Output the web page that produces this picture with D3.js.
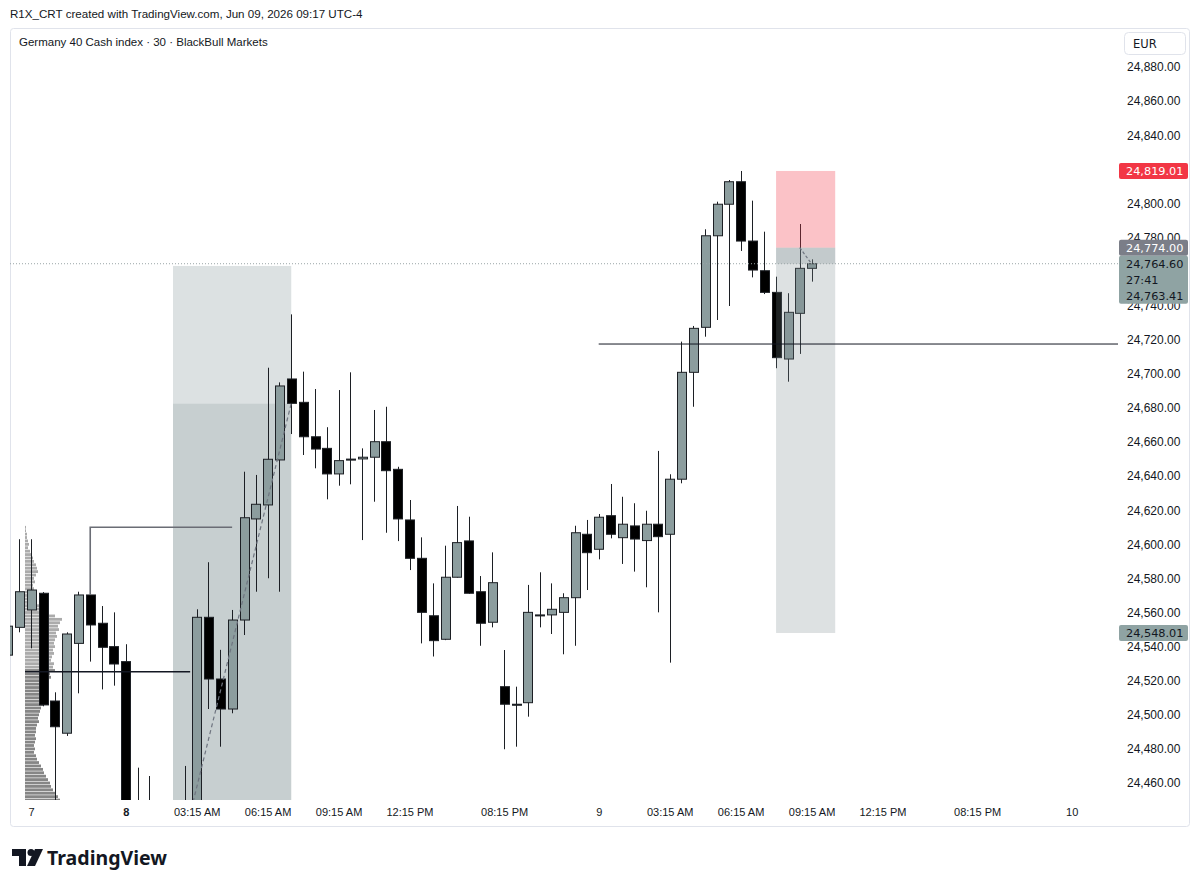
<!DOCTYPE html>
<html lang="en">
<head>
<meta charset="utf-8">
<title>Germany 40 Cash index · 30 · BlackBull Markets</title>
<script src="https://cdn.jsdelivr.net/npm/d3@7"></script>
<style>
	body { margin: 0; background: #fff; }
	svg { display: block; font-family: "DejaVu Sans", sans-serif; }
	.axis text { font-size: 11px; fill: #131722; }
	.yaxis text { font-size: 12px; }
	.axis path, .axis line { display: none; }
</style>
</head>
<body>
<script>
// candles, 30 min, bar index 0 = start of day "8"
var firstIndex = -10;
var opens  = [24535, 24551.3, 24561.5, 24571.3, 24508.1, 24489.2, 24541.9, 24570.3, 24553.7, 24540.0,
              24531.2, 24440, 24432, 24420, 24410, 24405, 24420, 24557.2, 24521.0, 24503.4,
              24555.6, 24614.9, 24623.1, 24649.5, 24697.0, 24683.3, 24663.1, 24656.3, 24641.3, 24650.0,
              24650.1, 24651.1, 24660.2, 24644.0, 24614.3, 24591.8, 24558.1, 24544.3, 24580.7, 24602.0,
              24572.2, 24554.3, 24516.5, 24506.2, 24507.1, 24558.5, 24558.6, 24560.1, 24568.7, 24605.9,
              24597.1, 24616.8, 24603.9, 24610.8, 24602.2, 24611.8, 24605.9, 24638.2, 24700.9, 24727.3,
              24781.0, 24799.5, 24812.7, 24777.9, 24760.5, 24747.8, 24708.7, 24735.5, 24761.9];
var highs  = [24556, 24603.0, 24603.0, 24572.0, 24513.2, 24548.4, 24572.2, 24571.0, 24563.8, 24560.1,
              24541.4, 24469.0, 24464.1, 24440, 24445, 24470.0, 24561.9, 24589.5, 24538.1, 24561.5,
              24642.6, 24640.7, 24703.6, 24695.0, 24734.9, 24701.3, 24691.1, 24668.7, 24690.5, 24700.9,
              24656.3, 24678.8, 24680.7, 24645.5, 24626.0, 24604.1, 24577.1, 24599.2, 24622.5, 24616.2,
              24581.4, 24595.3, 24538.0, 24516.5, 24576.2, 24583.6, 24577.1, 24571.3, 24610.9, 24614.3,
              24617.8, 24635.4, 24627.9, 24624.1, 24619.7, 24654.8, 24641.1, 24718.9, 24728.1, 24784.8,
              24801.0, 24813.7, 24819.0, 24801.6, 24783.4, 24757.0, 24747.3, 24787.9, 24767.2];
var lows   = [24530, 24548.4, 24539.0, 24505.0, 24440, 24487.6, 24512.6, 24531.2, 24514.9, 24517.1,
              24430, 24420, 24415, 24400, 24395, 24398, 24415, 24503.4, 24481.3, 24500.9,
              24546.8, 24572.2, 24580.1, 24572.2, 24664.7, 24652.4, 24644.6, 24626.4, 24634.4, 24635.2,
              24602.5, 24625.0, 24606.8, 24601.9, 24584.9, 24541.9, 24534.2, 24543.8, 24580.5, 24571.0,
              24540.5, 24551.3, 24479.8, 24481.3, 24498.9, 24551.3, 24547.4, 24535.5, 24540.5, 24573.2,
              24591.2, 24603.5, 24588.5, 24584.0, 24574.8, 24560.1, 24530.6, 24635.8, 24680.7, 24721.8,
              24731.6, 24739.8, 24772.1, 24756.6, 24746.8, 24703.3, 24695.4, 24711.7, 24754.1];
var closes = [24552, 24572.2, 24573.2, 24505.8, 24493.0, 24547.4, 24570.3, 24552.7, 24539.6, 24529.8,
              24445, 24430, 24425, 24410, 24405, 24420, 24557.2, 24521.0, 24503.4, 24555.6,
              24615.6, 24623.5, 24649.9, 24692.9, 24682.7, 24663.1, 24655.9, 24641.3, 24649.1, 24649.5,
              24651.1, 24660.2, 24643.2, 24614.9, 24591.8, 24560.1, 24543.5, 24580.7, 24601.0, 24571.3,
              24553.7, 24577.5, 24506.2, 24506.0, 24560.1, 24558.6, 24561.9, 24568.7, 24606.8, 24595.1,
              24615.9, 24605.9, 24611.8, 24603.1, 24611.8, 24604.5, 24638.2, 24700.9, 24726.7, 24781.0,
              24799.5, 24812.7, 24777.9, 24760.9, 24747.8, 24709.5, 24736.1, 24761.9, 24764.6];

// axis ticks
var priceTicks = [24460, 24480, 24500, 24520, 24540, 24560, 24580, 24600, 24620, 24640, 24660,
                  24680, 24700, 24720, 24740, 24760, 24780, 24800, 24820, 24840, 24860, 24880];
var timeTickIndex  = [-8, 0, 6, 12, 18, 24, 32, 40, 46, 52, 58, 64, 72, 80];
var timeTickLabels = ["7", "8", "03:15 AM", "06:15 AM", "09:15 AM", "12:15 PM", "08:15 PM",
                      "9", "03:15 AM", "06:15 AM", "09:15 AM", "12:15 PM", "08:15 PM", "10"];
var boldTicks = ["8"];

// session volume profile (top row 24610, 2 pt rows going down)
var profileTop = 24610;
var profileVolume = [1, 1, 2, 2, 3, 4, 3, 5, 6, 8, 9, 11, 12, 13, 11, 9, 10, 8, 9, 8,
                     10, 11, 12, 14, 18, 24, 30, 37, 35, 33, 34, 31, 32, 30, 29, 30, 28, 29, 27, 26,
                     29, 28, 30, 25, 26, 24, 23, 24, 22, 21, 20, 19, 18, 16, 15, 14, 13, 14, 12, 11,
                     11, 10, 11, 10, 9, 10, 9, 11, 12, 14, 16, 18, 19, 21, 23, 25, 26, 28, 30, 33, 35];
var profileSplit = 24526;

// drawings
var lastPrice = 24764.60;
var countdown = "27:41";
var secondPrice = 24763.41;
var levelRight = 24717.5;
var levelLeft = 24525.3;
var stepLine = [[-3, 24570.3], [-3, 24610.0], [9, 24610.0]];
var longBox = {from: 4, to: 14, entry: 24401, target: 24763.3, close: 24682.7};
var shortBox = {from: 55, to: 60, entryAt: 57, entry: 24774.00, stop: 24819.01, target: 24548.01, closeAt: 58, close: 24764.60};

var w = 1200, h = 886;
var plotLeft = 10, plotRight = 1118, plotTop = 28, plotBottom = 800;

var xScale = d3.scaleLinear().domain([-10, 80]).range([7.45, 1071.7]);
var yScale = d3.scaleLinear().domain([24460, 24880]).range([783, 67]);
var step = xScale(1) - xScale(0);
var bodyW = step * 0.74;
var fmt = d3.format(",.2f");

var svg = d3.select("body").append("svg").attr("width", w).attr("height", h);

svg.append("defs").append("clipPath").attr("id", "plot")
	.append("rect").attr("x", plotLeft).attr("y", plotTop)
	.attr("width", plotRight - plotLeft).attr("height", plotBottom - plotTop);

// header
svg.append("text").attr("x", 10).attr("y", 18).attr("font-size", 11.6).attr("fill", "#131722")
	.attr("font-family", "'Liberation Sans', Arial, sans-serif")
	.text("R1X_CRT created with TradingView.com, Jun 09, 2026 09:17 UTC-4");

// panel frame
svg.append("rect").attr("x", 10.5).attr("y", 28.5).attr("width", 1179).attr("height", 798)
	.attr("rx", 3).attr("fill", "#fff").attr("stroke", "#e0e3eb");

var plot = svg.append("g").attr("clip-path", "url(#plot)");

// long position box (left)
plot.append("rect")
	.attr("x", xScale(longBox.from)).attr("width", xScale(longBox.to) - xScale(longBox.from))
	.attr("y", yScale(longBox.target)).attr("height", yScale(longBox.close) - yScale(longBox.target))
	.attr("fill", "#dce1e2");
plot.append("rect")
	.attr("x", xScale(longBox.from)).attr("width", xScale(longBox.to) - xScale(longBox.from))
	.attr("y", yScale(longBox.close)).attr("height", yScale(longBox.entry) - yScale(longBox.close))
	.attr("fill", "#c7cfd0");

// volume profile
var vScale = d3.scaleLinear().domain([0, 40]).range([0, 40]);
plot.append("g").selectAll("rect")
	.data(profileVolume)
	.enter()
	.append("rect")
	.attr("x", 25)
	.attr("y", function(d, i) { return yScale(profileTop - i * 2) - 1.4; })
	.attr("width", function(d) { return vScale(d); })
	.attr("height", 2.8)
	.attr("fill", function(d, i) { return (profileTop - i * 2) > profileSplit ? "#ababab" : "#868686"; });

// candles
var candles = opens.map(function(o, k) {
	return {i: firstIndex + k, o: o, h: highs[k], l: lows[k], c: closes[k]};
});

plot.append("g").selectAll("line")
	.data(candles)
	.enter()
	.append("line")
	.attr("x1", function(d) { return Math.round(xScale(d.i)) + 0.5; })
	.attr("x2", function(d) { return Math.round(xScale(d.i)) + 0.5; })
	.attr("y1", function(d) { return yScale(d.h); })
	.attr("y2", function(d) { return yScale(d.l); })
	.attr("stroke", "#1c1f24")
	.attr("stroke-width", 1);

plot.append("g").selectAll("rect")
	.data(candles)
	.enter()
	.append("rect")
	.attr("x", function(d) { return Math.round(xScale(d.i) - bodyW / 2) + 0.5; })
	.attr("width", Math.round(bodyW))
	.attr("y", function(d) { return yScale(Math.max(d.o, d.c)); })
	.attr("height", function(d) { return Math.max(1, Math.abs(yScale(d.o) - yScale(d.c))); })
	.attr("fill", function(d) { return d.c >= d.o ? "#8c9d9e" : "#000"; })
	.attr("stroke", "#1c1f24")
	.attr("stroke-width", 1);

// short position box (right), drawn over the bars
var sx = xScale(shortBox.from), sw = xScale(shortBox.to) - xScale(shortBox.from);
plot.append("rect").attr("x", sx).attr("width", sw)
	.attr("y", yScale(shortBox.stop)).attr("height", yScale(shortBox.entry) - yScale(shortBox.stop))
	.attr("fill", "rgba(242,54,69,0.3)");
plot.append("rect").attr("x", sx).attr("width", sw)
	.attr("y", yScale(shortBox.entry)).attr("height", yScale(shortBox.target) - yScale(shortBox.entry))
	.attr("fill", "rgba(120,134,138,0.25)");
plot.append("rect").attr("x", sx).attr("width", sw)
	.attr("y", yScale(shortBox.entry)).attr("height", yScale(shortBox.close) - yScale(shortBox.entry))
	.attr("fill", "rgba(120,134,138,0.25)");

// dashed trade paths
plot.append("line")
	.attr("x1", xScale(longBox.from)).attr("y1", yScale(longBox.entry))
	.attr("x2", xScale(longBox.to)).attr("y2", yScale(longBox.close))
	.attr("stroke", "#6f7580").attr("stroke-width", 1.2).attr("stroke-dasharray", "4,3");
plot.append("line")
	.attr("x1", xScale(shortBox.entryAt)).attr("y1", yScale(shortBox.entry))
	.attr("x2", xScale(shortBox.closeAt)).attr("y2", yScale(shortBox.close))
	.attr("stroke", "#6f7580").attr("stroke-width", 1.2).attr("stroke-dasharray", "3,2");

// horizontal levels
plot.append("line")
	.attr("x1", xScale(40)).attr("x2", plotRight)
	.attr("y1", yScale(levelRight)).attr("y2", yScale(levelRight))
	.attr("stroke", "#131722").attr("stroke-width", 1);
plot.append("line")
	.attr("x1", 25).attr("x2", xScale(5.45))
	.attr("y1", yScale(levelLeft)).attr("y2", yScale(levelLeft))
	.attr("stroke", "#131722").attr("stroke-width", 1.5);

var stepPath = d3.line()
	.x(function(d) { return xScale(d[0]); })
	.y(function(d) { return yScale(d[1]); });
plot.append("path").attr("d", stepPath(stepLine))
	.attr("fill", "none").attr("stroke", "#6a6d75").attr("stroke-width", 1.6);

// last price dotted line
plot.append("line")
	.attr("x1", plotLeft).attr("x2", plotRight)
	.attr("y1", yScale(lastPrice)).attr("y2", yScale(lastPrice))
	.attr("stroke", "#9aa6a7").attr("stroke-width", 1).attr("stroke-dasharray", "1,2");

// legend
svg.append("text").attr("x", 19).attr("y", 46).attr("font-size", 11.5).attr("fill", "#131722")
	.attr("font-family", "'Liberation Sans', Arial, sans-serif")
	.text("Germany 40 Cash index · 30 · BlackBull Markets");

// price tags on the axis (price label boxes)
var tags = [
	{y0: yScale(shortBox.stop) - 8, y1: yScale(shortBox.stop) + 8, fill: "#f23645", color: "#fff", lines: [fmt(shortBox.stop)]},
	{y0: yScale(shortBox.entry) - 8, y1: yScale(shortBox.entry) + 8, fill: "#7b7e88", color: "#fff", lines: [fmt(shortBox.entry)]},
	{y0: yScale(shortBox.entry) + 8, y1: yScale(shortBox.entry) + 56, fill: "#8fa3a3", color: "#131722",
		lines: [fmt(lastPrice), countdown, fmt(secondPrice)]},
	{y0: yScale(shortBox.target) - 8, y1: yScale(shortBox.target) + 8, fill: "#8fa3a3", color: "#131722", lines: [fmt(shortBox.target)]}
];

// price axis: ticks fully covered by a tag are not drawn
var shownTicks = priceTicks.filter(function(p) {
	var y = yScale(p);
	return !tags.some(function(t) { return y > t.y0 + 2 && y < t.y1 - 2; });
});
var yAxis = d3.axisRight(yScale).tickValues(shownTicks).tickSize(0).tickPadding(9).tickFormat(fmt);
svg.append("g").attr("class", "axis yaxis").attr("transform", "translate(" + plotRight + ",0)").call(yAxis);

// time axis
var xAxis = d3.axisBottom(xScale).tickValues(timeTickIndex).tickSize(0).tickPadding(8)
	.tickFormat(function(d, i) { return timeTickLabels[i]; });
var xg = svg.append("g").attr("class", "axis").attr("transform", "translate(0," + plotBottom + ")").call(xAxis);
xg.selectAll("text").attr("font-weight", function(d, i) {
	return boldTicks.indexOf(timeTickLabels[i]) >= 0 ? "bold" : "normal";
});

tags.forEach(function(t) {
	svg.append("rect").attr("x", plotRight + 1).attr("y", t.y0).attr("width", 69).attr("height", t.y1 - t.y0)
		.attr("rx", 2).attr("fill", t.fill);
	var dy = (t.y1 - t.y0) / t.lines.length;
	t.lines.forEach(function(s, k) {
		svg.append("text").attr("x", plotRight + 8).attr("y", t.y0 + dy * k + dy / 2)
			.attr("dy", "0.35em").attr("font-size", 11.3).attr("fill", t.color).text(s);
	});
});

// currency button
svg.append("rect").attr("x", 1124.5).attr("y", 32.5).attr("width", 61).attr("height", 22)
	.attr("rx", 4).attr("fill", "#fff").attr("stroke", "#e0e3eb");
svg.append("text").attr("x", 1133).attr("y", 47.5).attr("font-size", 11.5).attr("fill", "#131722").text("EUR");

// TradingView footer logo
var logo = svg.append("g").attr("fill", "#131722");
logo.append("path").attr("d", "M12,849 H26 V866 H19 V856 H12 Z");
logo.append("circle").attr("cx", 31).attr("cy", 852.5).attr("r", 3.5);
logo.append("path").attr("d", "M35,849 H43 L35,866 H27 Z");
logo.append("text").attr("x", 47).attr("y", 865).attr("font-size", 20).attr("font-weight", "bold")
	.attr("font-family", "'Noto Sans', sans-serif").attr("textLength", 120).attr("lengthAdjust", "spacingAndGlyphs")
	.text("TradingView");
</script>
</body>
</html>
